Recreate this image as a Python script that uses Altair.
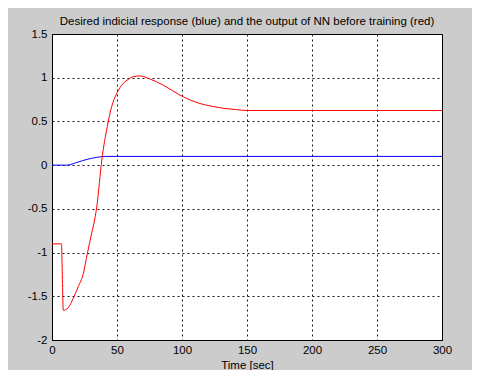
import altair as alt
import pandas as pd

# Red: output of NN before training
red_t = [0, 7.3, 7.7, 8.7, 12.5, 16.4, 20.2, 24.1, 27.2, 30.5, 33.1, 34.4, 38.4, 42.5,
         45.9, 49.8, 54.8, 58.5, 62.5, 67.7, 75.4, 85.6, 98.5, 113.8, 124, 135, 142, 150, 300]
red_v = [-0.9, -0.9, -1.1, -1.66, -1.63, -1.52, -1.39, -1.24, -1.01, -0.78, -0.6, -0.48, 0.07, 0.44,
         0.67, 0.82, 0.935, 0.98, 1.012, 1.02, 0.985, 0.915, 0.8, 0.705, 0.67, 0.645, 0.635, 0.625, 0.625]

# Blue: desired indicial response
blue_t = [0, 11, 12.5, 20, 27, 34, 41, 300]
blue_v = [0, 0, 0.002, 0.035, 0.066, 0.088, 0.1, 0.1]

x_ticks = [0, 50, 100, 150, 200, 250, 300]
y_ticks = [-2, -1.5, -1, -0.5, 0, 0.5, 1, 1.5]

df = pd.concat([
    pd.DataFrame({"t": blue_t, "v": blue_v, "s": "blue", "o": range(len(blue_t))}),
    pd.DataFrame({"t": red_t, "v": red_v, "s": "red", "o": range(len(red_t))}),
])

font = "Liberation Sans"

chart = alt.Chart(df).mark_line(strokeWidth=1, interpolate="monotone", clip=True).encode(
    x=alt.X("t:Q", scale=alt.Scale(domain=[0, 300], nice=False, zero=False),
            axis=alt.Axis(values=x_ticks, title="Time [sec]", labelExpr="datum.value + ''",
                          titlePadding=4, labelPadding=4)),
    y=alt.Y("v:Q", scale=alt.Scale(domain=[-2, 1.5], nice=False, zero=False),
            axis=alt.Axis(values=y_ticks, title=None, labelExpr="datum.value + ''",
                          labelPadding=5)),
    color=alt.Color("s:N", scale=alt.Scale(domain=["blue", "red"], range=["#0000ff", "#ff0000"]),
                    legend=None),
    detail="s:N",
    order="o:Q",
).properties(
    width=390,
    height=306,
    title=alt.TitleParams(
        "Desired indicial response (blue) and the output of NN before training (red)",
        font=font, fontSize=11.5, fontWeight="normal", color="#000", offset=1, anchor="middle"),
    background="#cccccc",
    padding={"left": 44, "top": 26, "right": 30, "bottom": 30},
    autosize=alt.AutoSizeParams(type="none"),
).configure_view(
    fill="white", stroke="#000", strokeWidth=1,
).configure_axis(
    labelFont=font, titleFont=font, labelFontSize=11.5, titleFontSize=11.5,
    titleFontWeight="normal", labelColor="#000", titleColor="#000",
    domainColor="#000", tickSize=0, gridColor="#000", gridDash=[2, 3],
    gridOpacity=0.9, labelFlush=False,
)

chart.save("out.html", embed_options={"renderer": "svg", "actions": False})
